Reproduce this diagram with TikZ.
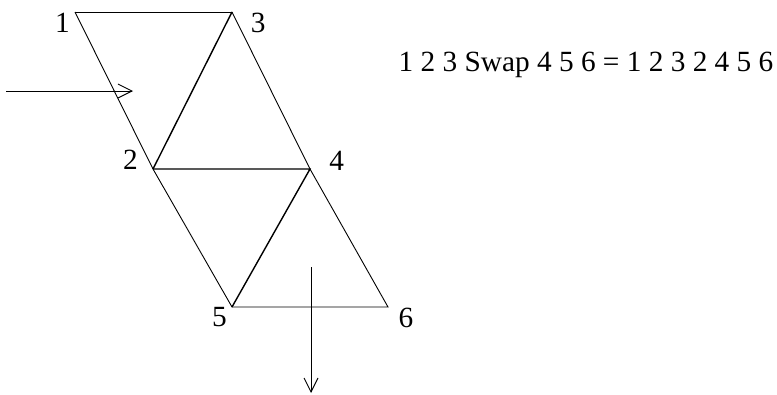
\documentclass[tikz,border=0pt]{standalone}
\usepackage{fontspec}
\setmainfont{Liberation Serif}
\usepackage{tikz}
\usetikzlibrary{arrows.meta}
\definecolor{StripBlack}{RGB}{0,0,0}

\begin{document}
\begin{tikzpicture}[x=1pt,y=-1pt,
    lab/.style={inner sep=0pt,font=\fontsize{29.3}{33}\selectfont},
    edge/.style={StripBlack,line width=0.9pt},
    fold/.style={StripBlack,line width=1.4pt},
    flow/.style={StripBlack,line width=0.9pt,-{Straight Barb[length=14pt,width=14pt,line width=0.9pt]}}]
        \useasboundingbox (0,0) rectangle (777,394);
        \foreach \n/\x/\y in {1/75/12,2/153/169,3/232/12,4/310/169,5/232/307,6/388/307}
          {\coordinate (v\n) at (\x,\y);}
        \foreach \n/\x/\y in {1/62.5/23.3,2/130.5/160,3/258.3/22.8,4/336.7/161.2,5/219.4/317.5,6/406/317.5}
          {\node[lab] (l\n) at (\x,\y) {\n};}
        \draw[edge] (v1)--(v3);
        \draw[edge] (v1)--(v2)--(v5)--(v6)--(v4)--(v3);
        \draw[fold] (v2)--(v3);
        \draw[fold] (v2)--(v4)--(v5);
        % in and out
        \coordinate (inL) at (6,91);
        \coordinate (inR) at (133,91);
        \coordinate (outT) at (311,267);
        \coordinate (outB) at (311,393);
        \draw[flow] (inL)--(inR);
        \draw[flow] (outT)--(outB);
        \node[lab,anchor=base west] (rule) at (398.5,71.7) {1 2 3 Swap 4 5 6 = 1 2 3 2 4 5 6};
      \end{tikzpicture}
\end{document}
